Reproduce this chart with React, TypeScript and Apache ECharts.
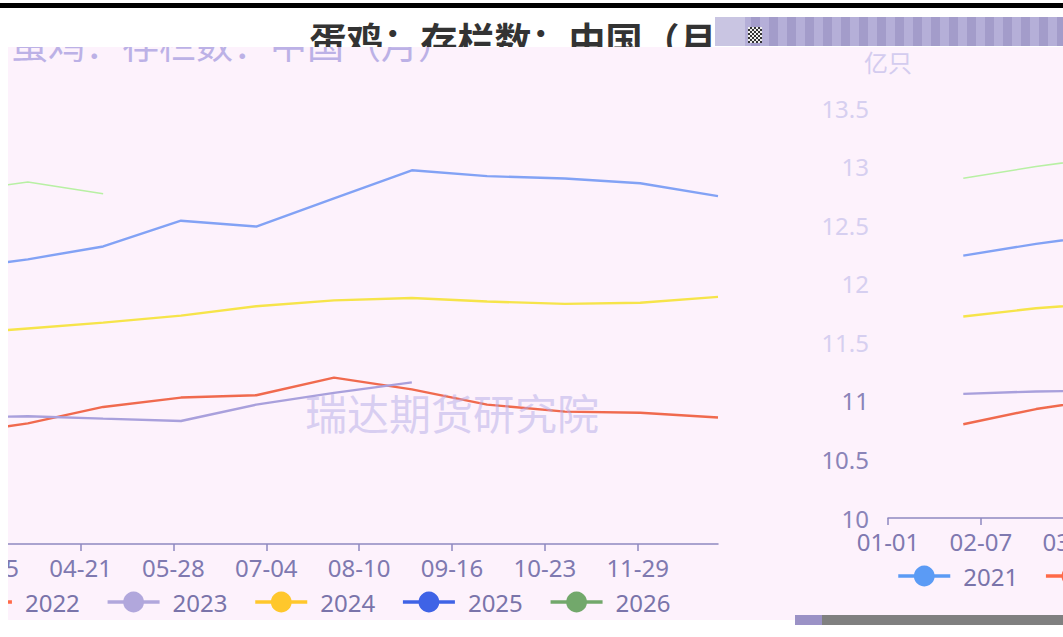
import React, { useEffect, useRef } from "react";
import * as echarts from "echarts";

// ---------- data ----------
const years = ["2021", "2022", "2023", "2024", "2025", "2026"];
const monthEnds = ["01-31", "02-29", "03-31", "04-30", "05-31", "06-30", "07-31", "08-31", "09-30", "10-31", "11-30", "12-31"];
const values2021: number[] = [];
const values2022 = [10.8, 10.93, 11.03, 11.17, 11.25, 11.27, 11.42, 11.32, 11.19, 11.13, 11.12, 11.08];
const values2023 = [11.06, 11.08, 11.09, 11.07, 11.05, 11.19, 11.29, 11.38];
const values2024 = [11.72, 11.79, 11.84, 11.89, 11.95, 12.03, 12.08, 12.1, 12.07, 12.05, 12.06, 12.11];
const values2025 = [12.24, 12.34, 12.43, 12.54, 12.76, 12.71, 12.95, 13.19, 13.14, 13.12, 13.08, 12.97];
const values2026 = [12.9, 13.0, 13.09, 12.99];
const yMin = 10;
const yMax = 13.5;
const yInterval = 0.5;
const titleText = "蛋鸡：存栏数：中国（月）";
const unitName = "亿只";
const watermark = "瑞达期货研究院";

const lineColors = ["#5b9bf5", "#f06a4e", "#a9a0dc", "#f6e44a", "#82a2f5", "#b8f0a4"];
const iconColors = ["#5b9bf5", "#ff6a48", "#b1a7dc", "#ffc72c", "#3f63e6", "#72a86b"];
const seriesValues = [values2021, values2022, values2023, values2024, values2025, values2026];

// x categories: every day of a leap year (MM-DD)
const monthLengths = [31, 29, 31, 30, 31, 30, 31, 31, 30, 31, 30, 31];
const categories: string[] = [];
monthLengths.forEach((n, m) => {
  for (let d = 1; d <= n; d++) {
    categories.push(`${String(m + 1).padStart(2, "0")}-${String(d).padStart(2, "0")}`);
  }
});

const CHART_W = 1063;
const CHART_H = 620;
const PINK = "#fdf2fc";

type Variant = "top" | "left" | "right";

function buildOption(variant: Variant): any {
  const ghost = variant === "left";
  return {
    animation: false,
    backgroundColor: "transparent",
    title: {
      text: titleText,
      left: ghost ? 297 : "center",
      top: ghost ? -7 : 15,
      textStyle: {
        fontSize: 37,
        fontWeight: ghost ? "normal" : "bold",
        color: ghost ? "#bcb1e6" : "#333333",
        fontFamily: "Noto Sans CJK SC",
      },
    },
    graphic: [
      {
        type: "text",
        left: 596,
        top: 364,
        z: 100,
        style: {
          text: watermark,
          fontSize: 42,
          fontFamily: "Noto Sans CJK SC",
          fill: "rgba(180,170,230,0.5)",
        },
      },
    ],
    grid: { left: 93, right: 54, top: 108, bottom: CHART_H - 518 },
    legend: {
      left: "center",
      top: 564,
      padding: 0,
      itemWidth: 52,
      itemHeight: 26,
      itemGap: 26,
      textStyle: { fontSize: 24, color: "#7a74aa", fontFamily: "Noto Sans", padding: [0, 0, 0, 8] },
      data: years.map((y, i) => ({
        name: y,
        itemStyle: { color: iconColors[i] },
        lineStyle: { color: iconColors[i], width: 3.5 },
      })),
    },
    xAxis: {
      type: "category",
      data: categories,
      boundaryGap: false,
      axisLine: { lineStyle: { color: "#8e89c0", width: 1.5 } },
      axisTick: { length: 7, lineStyle: { color: "#8e89c0", width: 1.5 } },
      axisLabel: { interval: 36, fontSize: 24, color: "#7f79b0", fontFamily: "Noto Sans", margin: 11 },
      splitLine: { show: false },
    },
    yAxis: {
      type: "value",
      min: yMin,
      max: yMax,
      interval: yInterval,
      name: unitName,
      nameLocation: "end",
      nameGap: 35,
      nameTextStyle: { fontSize: 24, color: "#d4ccef", fontFamily: "Noto Sans CJK SC" },
      axisLine: { show: false },
      axisTick: { show: false },
      splitLine: { show: false },
      axisLabel: {
        fontSize: 24,
        margin: 19,
        fontFamily: "Noto Sans",
        color: (v: any) => (Number(v) >= 11.5 ? "#d6cff0" : "#8a84b8"),
      },
    },
    series: years.map((y, i) => ({
      type: "line",
      name: y,
      data: seriesValues[i].map((v, k) => [monthEnds[k], v]),
      symbol: "circle",
      showSymbol: false,
      smooth: false,
      lineStyle: { color: lineColors[i], width: i === 5 ? 1.6 : 2.4 },
      itemStyle: { color: iconColors[i] },
      emphasis: { disabled: true },
    })),
  };
}

function Clip(props: {
  left: number; top: number; width: number; height: number;
  chartX: number; chartY: number; variant: Variant; bg: string;
}) {
  const ref = useRef<HTMLDivElement>(null);
  useEffect(() => {
    if (!ref.current) return;
    const chart = echarts.init(ref.current, undefined, { renderer: "svg", width: CHART_W, height: CHART_H });
    chart.setOption(buildOption(props.variant));
    return () => chart.dispose();
  }, []);
  return (
    <div
      style={{
        position: "absolute",
        left: props.left,
        top: props.top,
        width: props.width,
        height: props.height,
        overflow: "hidden",
        background: props.bg,
      }}
    >
      <div
        ref={ref}
        style={{
          position: "absolute",
          left: props.chartX - props.left,
          top: props.chartY - props.top,
          width: CHART_W,
          height: CHART_H,
        }}
      />
    </div>
  );
}

export default function App() {
  return (
    <div style={{ position: "fixed", left: 0, top: 0, width: 1063, height: 637, background: "#ffffff", overflow: "hidden" }}>
      <div style={{ position: "absolute", left: 0, top: 3, width: 1063, height: 5, background: "#000" }} />
      <div style={{ position: "absolute", left: 8, top: 47, width: 1055, height: 573, background: PINK }} />
      <Clip left={0} top={8} width={715} height={39} chartX={0} chartY={0} variant="top" bg="#ffffff" />
      <Clip left={8} top={47} width={787} height={573} chartX={-291} chartY={26} variant="left" bg={PINK} />
      <Clip left={795} top={47} width={268} height={568} chartX={795} chartY={0} variant="right" bg={PINK} />
      <div
        style={{
          position: "absolute", left: 715, top: 17, width: 348, height: 29,
          background: "repeating-linear-gradient(90deg, #a39cca 0px, #a39cca 9px, #b5afd8 9px, #b5afd8 18px)",
        }}
      />
      <div style={{ position: "absolute", left: 715, top: 17, width: 30, height: 29, background: "#c9c5e2" }} />
      <div
        style={{
          position: "absolute", left: 748, top: 27, width: 14, height: 16,
          background: "repeating-conic-gradient(#333 0% 25%, #eee 0% 50%) 0 0 / 4px 4px",
        }}
      />
      <div style={{ position: "absolute", left: 795, top: 615, width: 268, height: 10, background: "#808080" }} />
      <div style={{ position: "absolute", left: 795, top: 615, width: 27, height: 10, background: "#9b92c6" }} />
    </div>
  );
}
